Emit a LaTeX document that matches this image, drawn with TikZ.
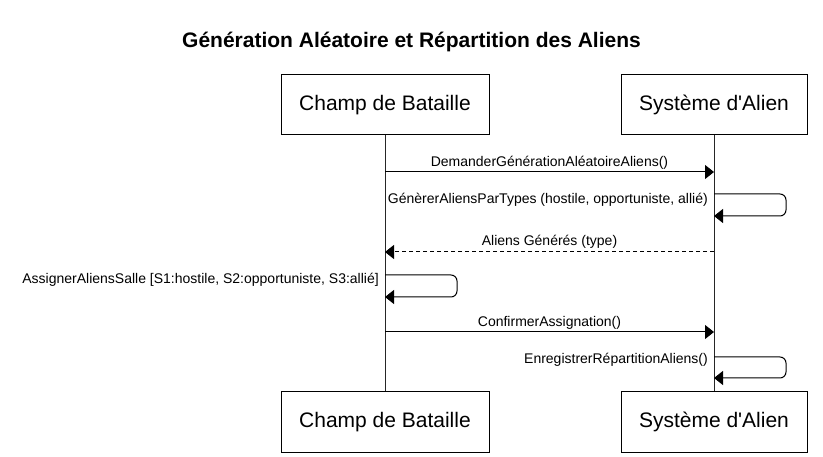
\documentclass[tikz,border=0pt]{standalone}
\usepackage{fontspec}
\setmainfont{Liberation Sans}[Ligatures=TeXOff]
\usetikzlibrary{arrows.meta}
\begin{document}
\begin{tikzpicture}[x=1pt,y=-1pt,
  actor/.style={draw=black,line width=1pt,minimum height=60pt,inner sep=0pt,font=\fontsize{21}{25}\selectfont},
  lifeline/.style={draw=black!85,line width=1pt},
  msg/.style={draw=black,line width=1pt,-{Triangle[length=9pt,width=14pt]}},
  ret/.style={msg,dash pattern=on 4pt off 3pt},
  lbl/.style={inner sep=0pt,font=\fontsize{14}{16}\selectfont},
  loopy/.style={msg,rounded corners=6pt}]
\useasboundingbox[fill=white] (0,0) rectangle (823,457);
\node[anchor=base,inner sep=0pt,font=\fontsize{21}{25}\selectfont\bfseries] (title) at (411.5,47.7) {Génération Aléatoire et Répartition des Aliens};
% actors
\node[actor,minimum width=208pt] (cbT) at (385,105) {Champ de Bataille};
\node[actor,minimum width=186pt] (saT) at (714,105) {Système d'Alien};
\node[actor,minimum width=208pt] (cbB) at (385,422) {Champ de Bataille};
\node[actor,minimum width=186pt] (saB) at (714,422) {Système d'Alien};
% lifelines
\draw[lifeline] (cbT.south) -- (cbB.north);
\draw[lifeline] (saT.south) -- (saB.north);
% message endpoints
\coordinate (a1) at (385,172); \coordinate (b1) at (714,172);
\coordinate (b2s) at (714,194); \coordinate (b2e) at (714,216);
\coordinate (a3) at (385,252); \coordinate (b3) at (714,252);
\coordinate (a4s) at (385,275); \coordinate (a4e) at (385,297);
\coordinate (a5) at (385,332); \coordinate (b5) at (714,332);
\coordinate (b6s) at (714,357); \coordinate (b6e) at (714,378);
% messages
\draw[msg] (a1) -- (b1);
\node[lbl,anchor=base] (l1) at (549.5,167) {DemanderGénérationAléatoireAliens()};
\draw[loopy] (b2s) -- (786,194) -- (786,216) -- (b2e);
\node[lbl,anchor=base east] (l2) at (708,204) {GénèrerAliensParTypes (hostile, opportuniste, allié)};
\draw[ret] (b3) -- (a3);
\node[lbl,anchor=base] (l3) at (549.5,246) {Aliens Générés (type)};
\draw[loopy] (a4s) -- (457,275) -- (457,297) -- (a4e);
\node[lbl,anchor=base east] (l4) at (379,284) {AssignerAliensSalle [S1:hostile, S2:opportuniste, S3:allié]};
\draw[msg] (a5) -- (b5);
\node[lbl,anchor=base] (l5) at (549.5,327) {ConfirmerAssignation()};
\draw[loopy] (b6s) -- (786,357) -- (786,378) -- (b6e);
\node[lbl,anchor=base east] (l6) at (708,363) {EnregistrerRépartitionAliens()};
\end{tikzpicture}
\end{document}
